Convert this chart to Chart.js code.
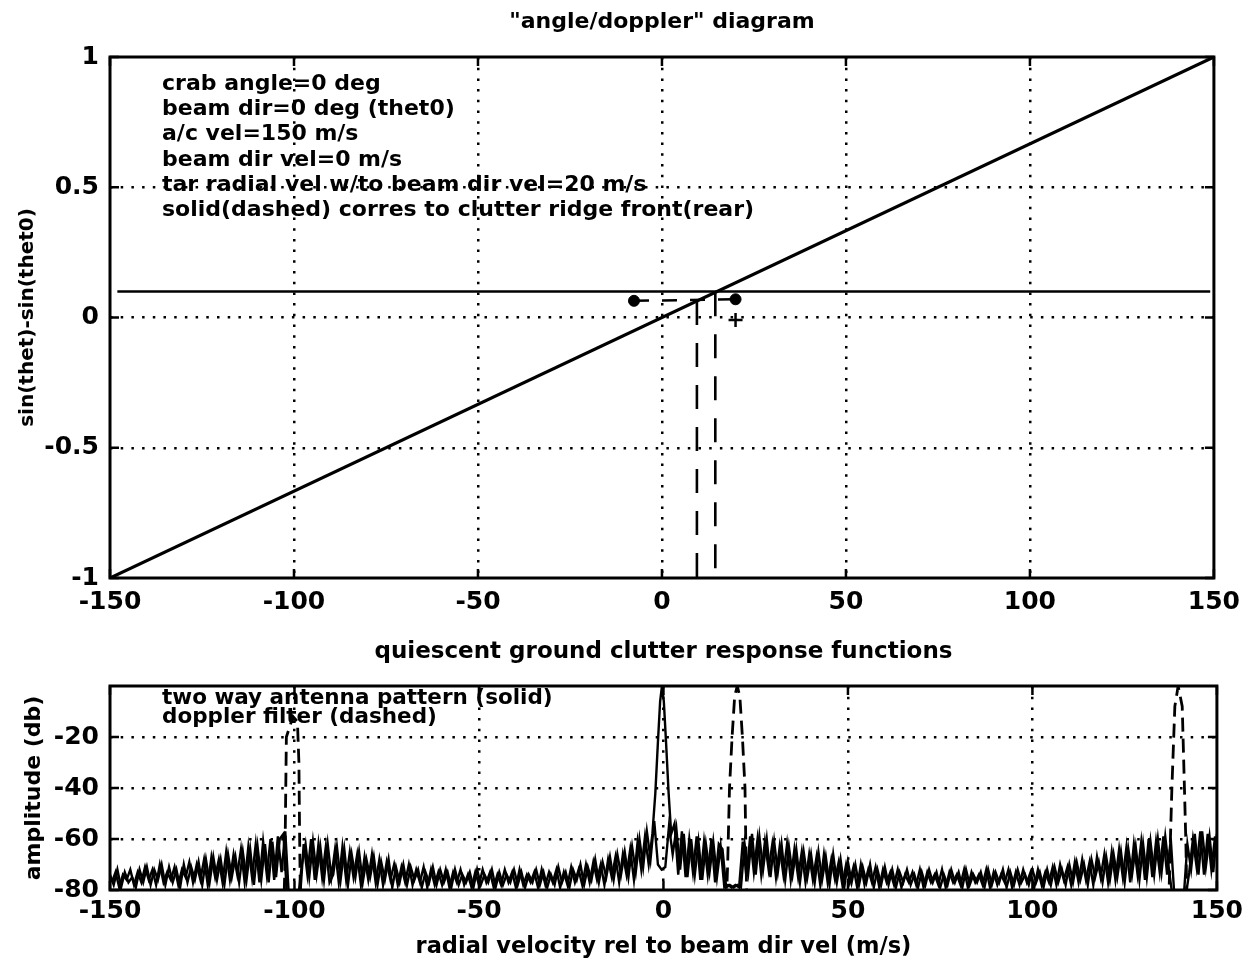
<!DOCTYPE html>
<html>
<head>
<meta charset="utf-8">
<script src="https://cdn.jsdelivr.net/npm/chart.js@4.4.1/dist/chart.umd.min.js"></script>
<style>
  body { margin: 0; background: #fff; }
  #wrap { position: relative; width: 1249px; height: 966px; }
  canvas { position: absolute; left: 0; }
  #angleChart { top: 0; }
  #clutterChart { top: 630px; }
</style>
</head>
<body>
<div id="wrap">
  <canvas id="angleChart" width="1249" height="630"></canvas>
  <canvas id="clutterChart" width="1249" height="336"></canvas>
</div>
<script>
const FONT = '"DejaVu Sans", sans-serif';

// ---- top plot: angle/doppler ----
const velTicks = [-150, -100, -50, 0, 50, 100, 150];
const sinTicks = [-1, -0.5, 0, 0.5, 1];

const ridgeVel = [-150, 150];
const ridgeSin = [-1, 1];
const tarVel = [-148, 149];
const tarSin = [0.1, 0.1];
const rearDropVel = [9.5, 9.5];
const rearDropSin = [0.063, -1];
const frontDropVel = [14.5, 14.5];
const frontDropSin = [0.097, -1];
const filtSpanVel = [-7.6, 20];
const filtSpanSin = [0.064, 0.07];
const endDotVel = [-7.6, 20];
const endDotSin = [0.064, 0.07];
const tarMarkVel = [20];
const tarMarkSin = [-0.01];

const topNotes = [
  'crab angle=0 deg',
  'beam dir=0 deg (thet0)',
  'a/c vel=150 m/s',
  'beam dir vel=0 m/s',
  'tar radial vel w/to beam dir vel=20 m/s',
  'solid(dashed) corres to clutter ridge front(rear)'
];

// ---- bottom plot: clutter response ----
const dbTicks = [-80, -60, -40, -20];

const antFrontVel = [
  -150,-149,-148,-147,-146,-145,-144,-143,-142,-141,
  -140,-139,-138,-137,-136,-135,-134,-133,-132,-131,
  -130,-129,-128,-127,-126,-125,-124,-123,-122,-121,
  -120,-119,-118,-117,-116,-115,-114,-113,-112,-111,
  -110,-109,-108,-107,-106,-105,-104,-103,-102,-101,
  -100,-99,-98,-97,-96,-95,-94,-93,-92,-91,
  -90,-89,-88,-87,-86,-85,-84,-83,-82,-81,
  -80,-79,-78,-77,-76,-75,-74,-73,-72,-71,
  -70,-69,-68,-67,-66,-65,-64,-63,-62,-61,
  -60,-59,-58,-57,-56,-55,-54,-53,-52,-51,
  -50,-49,-48,-47,-46,-45,-44,-43,-42,-41,
  -40,-39,-38,-37,-36,-35,-34,-33,-32,-31,
  -30,-29,-28,-27,-26,-25,-24,-23,-22,-21,
  -20,-19,-18,-17,-16,-15,-14,-13,-12,-11,
  -10,-9,-8,-7,-6,-5,-4,
  -3,-2.2,-1.5,-0.9,-0.4,0.1,0.7,1.4,2.1,
  3,4,5,6,7,8,9,10,
  11,12,13,14,15,16,17,18,19,20,
  21,22,23,24,25,26,27,28,29,30,
  31,32,33,34,35,36,37,38,39,40,
  41,42,43,44,45,46,47,48,49,50,
  51,52,53,54,55,56,57,58,59,60,
  61,62,63,64,65,66,67,68,69,70,
  71,72,73,74,75,76,77,78,79,80,
  81,82,83,84,85,86,87,88,89,90,
  91,92,93,94,95,96,97,98,99,100,
  101,102,103,104,105,106,107,108,109,110,
  111,112,113,114,115,116,117,118,119,120,
  121,122,123,124,125,126,127,128,129,130,
  131,132,133,134,135,136,137,138,139,140,
  141,142,143,144,145,146,147,148,149,150
];
const antFrontDb = [
  -74,-78,-72,-79,-73,-77,-75,-79,-72,-77,
  -71,-78,-72,-76,-70,-78,-71,-77,-72,-79,
  -70,-77,-71,-76,-69,-78,-68,-77,-67,-76,
  -68,-78,-66,-75,-67,-77,-65,-76,-64,-78,
  -63,-76,-62,-77,-61,-75,-60,-58,-83,-83,
  -83,-83,-70,-62,-75,-61,-74,-63,-76,-62,
  -75,-64,-77,-63,-76,-65,-75,-66,-78,-67,
  -76,-66,-77,-68,-78,-69,-76,-70,-78,-71,
  -77,-70,-78,-72,-77,-71,-79,-72,-78,-73,
  -78,-72,-79,-73,-77,-72,-78,-74,-79,-73,
  -78,-72,-77,-73,-79,-74,-78,-72,-77,-73,
  -79,-72,-78,-74,-77,-73,-79,-72,-78,-73,
  -77,-72,-79,-73,-78,-71,-77,-72,-78,-70,
  -77,-69,-76,-70,-78,-68,-75,-67,-77,-66,
  -74,-64,-76,-61,-72,-59,-70,
  -58,-42,-22,-6,0,-6,-22,-42,-58,
  -54,-74,-57,-75,-60,-73,-59,-76,
  -61,-74,-60,-77,-62,-64,-79,-78,-79,-78,
  -79,-62,-73,-58,-74,-59,-72,-60,-75,-61,
  -73,-62,-76,-63,-74,-64,-77,-65,-75,-66,
  -77,-65,-76,-67,-78,-66,-77,-68,-79,-69,
  -77,-70,-78,-71,-77,-70,-79,-72,-78,-71,
  -78,-72,-79,-73,-77,-72,-78,-74,-79,-73,
  -78,-72,-77,-73,-79,-74,-78,-72,-77,-73,
  -79,-72,-78,-74,-77,-73,-79,-72,-78,-73,
  -77,-72,-79,-73,-78,-72,-77,-74,-78,-72,
  -77,-73,-79,-72,-78,-71,-77,-72,-78,-70,
  -77,-69,-76,-70,-78,-68,-75,-69,-77,-67,
  -76,-66,-75,-65,-77,-64,-74,-63,-76,-62,
  -75,-61,-74,-60,-73,-59,-72,-83,-83,-83,
  -83,-62,-72,-58,-74,-57,-71,-59,-73,-58
];

const antRearVel = [
  -149.5,-148.5,-147.5,-146.5,-145.5,-144.5,-143.5,-142.5,-141.5,-140.5,
  -139.5,-138.5,-137.5,-136.5,-135.5,-134.5,-133.5,-132.5,-131.5,-130.5,
  -129.5,-128.5,-127.5,-126.5,-125.5,-124.5,-123.5,-122.5,-121.5,-120.5,
  -119.5,-118.5,-117.5,-116.5,-115.5,-114.5,-113.5,-112.5,-111.5,-110.5,
  -109.5,-108.5,-107.5,-106.5,-105.5,-104.5,-103.5,-102.5,-101.5,-100.5,
  -99.5,-98.5,-97.5,-96.5,-95.5,-94.5,-93.5,-92.5,-91.5,-90.5,
  -89.5,-88.5,-87.5,-86.5,-85.5,-84.5,-83.5,-82.5,-81.5,-80.5,
  -79.5,-78.5,-77.5,-76.5,-75.5,-74.5,-73.5,-72.5,-71.5,-70.5,
  -69.5,-68.5,-67.5,-66.5,-65.5,-64.5,-63.5,-62.5,-61.5,-60.5,
  -59.5,-58.5,-57.5,-56.5,-55.5,-54.5,-53.5,-52.5,-51.5,-50.5,
  -49.5,-48.5,-47.5,-46.5,-45.5,-44.5,-43.5,-42.5,-41.5,-40.5,
  -39.5,-38.5,-37.5,-36.5,-35.5,-34.5,-33.5,-32.5,-31.5,-30.5,
  -29.5,-28.5,-27.5,-26.5,-25.5,-24.5,-23.5,-22.5,-21.5,-20.5,
  -19.5,-18.5,-17.5,-16.5,-15.5,-14.5,-13.5,-12.5,-11.5,-10.5,
  -9.5,-8.5,-7.5,-6.5,-5.5,-4.5,-3.5,-2.5,-1.5,-0.5,
  0.5,1.5,2.5,3.5,4.5,5.5,6.5,7.5,8.5,9.5,
  10.5,11.5,12.5,13.5,14.5,15.5,16.5,17.5,18.5,19.5,
  20.5,21.5,22.5,23.5,24.5,25.5,26.5,27.5,28.5,29.5,
  30.5,31.5,32.5,33.5,34.5,35.5,36.5,37.5,38.5,39.5,
  40.5,41.5,42.5,43.5,44.5,45.5,46.5,47.5,48.5,49.5,
  50.5,51.5,52.5,53.5,54.5,55.5,56.5,57.5,58.5,59.5,
  60.5,61.5,62.5,63.5,64.5,65.5,66.5,67.5,68.5,69.5,
  70.5,71.5,72.5,73.5,74.5,75.5,76.5,77.5,78.5,79.5,
  80.5,81.5,82.5,83.5,84.5,85.5,86.5,87.5,88.5,89.5,
  90.5,91.5,92.5,93.5,94.5,95.5,96.5,97.5,98.5,99.5,
  100.5,101.5,102.5,103.5,104.5,105.5,106.5,107.5,108.5,109.5,
  110.5,111.5,112.5,113.5,114.5,115.5,116.5,117.5,118.5,119.5,
  120.5,121.5,122.5,123.5,124.5,125.5,126.5,127.5,128.5,129.5,
  130.5,131.5,132.5,133.5,134.5,135.5,136.5,137.5,138.5,139.5,
  140.5,141.5,142.5,143.5,144.5,145.5,146.5,147.5,148.5,149.5
];
const antRearDb = [
  -77,-73,-79,-74,-76,-72,-78,-73,-77,-71,
  -76,-72,-78,-70,-77,-73,-76,-71,-78,-72,
  -75,-69,-77,-70,-76,-68,-78,-67,-75,-68,
  -77,-65,-76,-66,-74,-64,-77,-63,-75,-62,
  -77,-61,-74,-60,-76,-59,-73,-57,-83,-83,
  -83,-83,-62,-74,-60,-76,-62,-75,-63,-77,
  -74,-63,-76,-64,-78,-66,-75,-65,-77,-68,
  -75,-67,-78,-69,-76,-68,-79,-71,-77,-70,
  -78,-71,-76,-72,-79,-73,-77,-71,-78,-72,
  -77,-73,-79,-72,-78,-74,-77,-73,-79,-72,
  -78,-74,-77,-72,-79,-73,-78,-74,-77,-72,
  -78,-73,-79,-74,-77,-72,-78,-73,-79,-74,
  -78,-71,-77,-73,-79,-72,-76,-70,-78,-71,
  -76,-68,-77,-69,-75,-67,-76,-66,-74,-65,
  -75,-63,-73,-60,-71,-57,-68,-53,-70,-72,
  -71,-55,-66,-56,-72,-58,-75,-60,-74,-61,
  -76,-62,-73,-61,-75,-63,-79,-78,-79,-78,
  -79,-61,-75,-59,-73,-60,-74,-61,-72,-62,
  -75,-63,-74,-62,-76,-64,-75,-65,-77,-66,
  -76,-67,-78,-66,-77,-68,-76,-69,-78,-70,
  -77,-71,-79,-70,-78,-72,-77,-71,-79,-72,
  -77,-73,-78,-72,-79,-74,-77,-73,-78,-72,
  -79,-73,-77,-74,-78,-72,-79,-73,-77,-74,
  -78,-72,-79,-73,-77,-74,-78,-72,-79,-73,
  -78,-74,-77,-72,-79,-73,-78,-72,-77,-73,
  -79,-72,-78,-73,-77,-71,-78,-70,-76,-71,
  -78,-69,-77,-68,-76,-69,-78,-67,-75,-66,
  -77,-65,-76,-64,-75,-63,-77,-62,-74,-61,
  -76,-60,-75,-61,-73,-59,-74,-60,-83,-83,
  -83,-83,-73,-60,-71,-57,-74,-58,-72,-59
];

const filtVel = [-150, -103, -102.6, -102.2, -100.4, -99.2, -98.8, -98.6, -98.3,
  16.8, 17.4, 17.9, 18.6, 19.3, 20, 20.7, 21.4, 22.1, 22.4, 22.8,
  136.8, 137.3, 137.8, 138.6, 139.5, 140.6, 141.2, 141.6, 142, 150];
const filtDb = [-95, -95, -70, -20, -12, -14, -30, -60, -95,
  -95, -70, -40, -20, -4, 0, -4, -20, -40, -70, -95,
  -95, -65, -40, -8, 0, -8, -40, -62, -95, -95];

const bottomNotes = [
  'two way antenna pattern (solid)',
  'doppler filter (dashed)'
];

function pts(xs, ys) {
  return xs.map((x, i) => ({x: x, y: ys[i]}));
}

// heading, frame, inward ticks and text notes, the way the old plot looks
const boxPlugin = {
  id: 'matlabBox',
  afterDraw(chart, args, opts) {
    const {ctx, chartArea: a, scales} = chart;
    ctx.save();
    ctx.strokeStyle = '#000';
    ctx.fillStyle = '#000';
    ctx.setLineDash([]);
    ctx.lineWidth = 2.5;
    ctx.beginPath();
    scales.x.ticks.forEach(t => {
      const px = scales.x.getPixelForValue(t.value);
      ctx.moveTo(px, a.bottom); ctx.lineTo(px, a.bottom - 9);
      ctx.moveTo(px, a.top); ctx.lineTo(px, a.top + 9);
    });
    scales.y.ticks.forEach(t => {
      const py = scales.y.getPixelForValue(t.value);
      ctx.moveTo(a.left, py); ctx.lineTo(a.left + 9, py);
      ctx.moveTo(a.right, py); ctx.lineTo(a.right - 9, py);
    });
    ctx.stroke();
    ctx.lineWidth = 3;
    ctx.strokeRect(a.left, a.top, a.right - a.left, a.bottom - a.top);
    ctx.textBaseline = 'middle';
    const h = opts.heading;
    if (h) {
      ctx.font = h.font;
      ctx.textAlign = 'center';
      ctx.fillText(h.text, (a.left + a.right) / 2, h.y);
    }
    const n = opts.notes;
    if (n) {
      ctx.font = n.font;
      ctx.textAlign = 'left';
      n.lines.forEach((s, i) => ctx.fillText(s, a.left + n.dx, a.top + n.dy + i * n.step));
    }
    ctx.restore();
  }
};

function dotted(edges) {
  return {
    grid: {
      color: c => edges.includes(c.tick.value) ? 'rgba(0,0,0,0)' : '#000',
      lineWidth: 2.5,
      drawTicks: false
    },
    border: { display: false, dash: [2.5, 8.2] }
  };
}

const tickFont = { family: FONT, size: 25, weight: 'bold' };

new Chart(document.getElementById('angleChart'), {
  type: 'line',
  data: {
    datasets: [
      { data: pts(ridgeVel, ridgeSin), borderColor: '#000', borderWidth: 3.2, pointRadius: 0 },
      { data: pts(tarVel, tarSin), borderColor: '#000', borderWidth: 2.5, pointRadius: 0 },
      { data: pts(rearDropVel, rearDropSin), borderColor: '#000', borderWidth: 2.6, borderDash: [24, 18], pointRadius: 0 },
      { data: pts(frontDropVel, frontDropSin), borderColor: '#000', borderWidth: 2.6, borderDash: [24, 18], pointRadius: 0 },
      { data: pts(filtSpanVel, filtSpanSin), borderColor: '#000', borderWidth: 2.5, borderDash: [15, 13], pointRadius: 0 },
      { data: pts(endDotVel, endDotSin), showLine: false, pointRadius: 5.5, pointBackgroundColor: '#000', pointBorderColor: '#000' },
      { data: pts(tarMarkVel, tarMarkSin), showLine: false, pointStyle: 'cross', pointRadius: 7, pointBorderWidth: 2.5, pointBorderColor: '#000' }
    ]
  },
  options: {
    responsive: false,
    animation: false,
    elements: { line: { tension: 0 } },
    layout: { padding: { left: 0, right: 31, top: 57, bottom: 0 } },
    plugins: {
      legend: { display: false },
      tooltip: { enabled: false },
      matlabBox: {
        heading: { text: '"angle/doppler" diagram', font: 'bold 22px ' + FONT, y: 22 },
        notes: { lines: topNotes, font: 'bold 22px ' + FONT, dx: 52, dy: 27, step: 25.3 }
      }
    },
    scales: {
      x: Object.assign(dotted([-150, 150]), {
        type: 'linear', min: -150, max: 150,
        afterBuildTicks: s => { s.ticks = velTicks.map(v => ({value: v})); },
        afterFit: s => { s.height = 52; },
        ticks: { color: '#000', font: tickFont, padding: 9, maxRotation: 0, autoSkip: false, callback: v => String(v) }
      }),
      y: Object.assign(dotted([-1, 1]), {
        type: 'linear', min: -1, max: 1,
        afterBuildTicks: s => { s.ticks = sinTicks.map(v => ({value: v})); },
        afterFit: s => { s.width = 110; },
        ticks: { color: '#000', font: tickFont, padding: 11, autoSkip: false, callback: v => String(v) },
        title: { display: true, text: 'sin(thet)-sin(thet0)', color: '#000', font: { family: FONT, size: 20, weight: 'bold' }, padding: { top: 16, bottom: 0 } }
      })
    }
  },
  plugins: [boxPlugin]
});

new Chart(document.getElementById('clutterChart'), {
  type: 'line',
  data: {
    datasets: [
      { data: pts(antFrontVel, antFrontDb), borderColor: '#000', borderWidth: 2.4, pointRadius: 0 },
      { data: pts(antRearVel, antRearDb), borderColor: '#000', borderWidth: 2.4, pointRadius: 0 },
      { data: pts(filtVel, filtDb), borderColor: '#000', borderWidth: 2.8, borderDash: [14, 7], pointRadius: 0 }
    ]
  },
  options: {
    responsive: false,
    animation: false,
    elements: { line: { tension: 0 } },
    layout: { padding: { left: 0, right: 31, top: 56, bottom: 0 } },
    plugins: {
      legend: { display: false },
      tooltip: { enabled: false },
      matlabBox: {
        heading: { text: 'quiescent ground clutter response functions', font: 'bold 23px ' + FONT, y: 22 },
        notes: { lines: bottomNotes, font: 'bold 21.5px ' + FONT, dx: 52, dy: 12, step: 19 }
      }
    },
    scales: {
      x: Object.assign(dotted([-150, 150]), {
        type: 'linear', min: -150, max: 150,
        afterBuildTicks: s => { s.ticks = velTicks.map(v => ({value: v})); },
        afterFit: s => { s.height = 76; },
        ticks: { color: '#000', font: tickFont, padding: 6, maxRotation: 0, autoSkip: false, callback: v => String(v) },
        title: { display: true, text: 'radial velocity rel to beam dir vel (m/s)', color: '#000', font: { family: FONT, size: 22.5, weight: 'bold' }, padding: { top: 0, bottom: 5 } }
      }),
      y: Object.assign(dotted([-80, 0]), {
        type: 'linear', min: -80, max: 0,
        afterBuildTicks: s => { s.ticks = dbTicks.map(v => ({value: v})); },
        afterFit: s => { s.width = 110; },
        ticks: { color: '#000', font: tickFont, padding: 11, autoSkip: false, callback: v => String(v) },
        title: { display: true, text: 'amplitude (db)', color: '#000', font: { family: FONT, size: 22, weight: 'bold' }, padding: { top: 21, bottom: 0 } }
      })
    }
  },
  plugins: [boxPlugin]
});
</script>
</body>
</html>
